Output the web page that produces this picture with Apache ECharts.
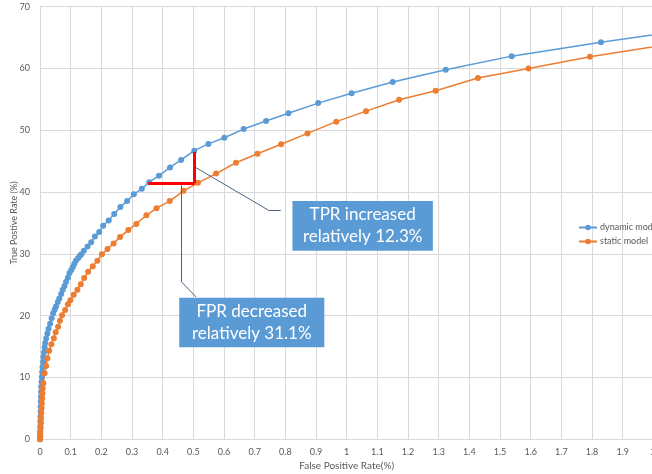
<!DOCTYPE html>
<html>
<head>
<meta charset="utf-8">
<script src="https://cdn.jsdelivr.net/npm/echarts@6/dist/echarts.min.js"></script>
<style>
html,body{margin:0;padding:0;background:#fff;overflow:hidden;}
#chart{width:652px;height:474px;}
</style>
</head>
<body>
<div id="chart"></div>
<script>
// ---- data (x = FPR %, y = TPR %) ----
var seriesNames = ['dynamic model', 'static model'];
var dynamicModel = [
  [0,0],[0,0.6],[0.0005,1.3],[0.001,2.1],[0.001,2.9],[0.0015,3.7],[0.002,4.5],[0.002,5.3],
  [0.0025,6.1],[0.003,6.9],[0.0035,7.7],[0.004,8.5],[0.005,9.3],[0.006,10.1],[0.007,10.9],
  [0.008,11.7],[0.010,12.5],[0.011,13.3],[0.013,14.1],[0.015,14.9],[0.017,15.6],[0.020,16.3],
  [0.024,17.1],[0.028,17.9],[0.033,18.7],[0.038,19.6],[0.043,20.4],[0.048,21.0],[0.052,21.5],
  [0.058,22.2],[0.063,22.8],[0.069,23.5],[0.074,24.2],[0.080,24.8],[0.085,25.5],[0.091,26.2],
  [0.096,26.9],[0.102,27.4],[0.107,27.9],[0.112,28.4],[0.117,28.9],[0.124,29.3],[0.130,29.7],
  [0.135,29.95],[0.143,30.5],[0.155,31.2],[0.167,31.9],[0.179,32.8],[0.193,33.55],[0.206,34.55],
  [0.224,35.4],[0.242,36.45],[0.262,37.6],[0.284,38.55],[0.306,39.65],[0.332,40.55],[0.356,41.6],
  [0.388,42.65],[0.424,44.0],[0.460,45.2],[0.503,46.7],[0.549,47.8],[0.601,48.8],[0.664,50.2],
  [0.737,51.5],[0.810,52.75],[0.907,54.4],[1.016,56.0],[1.150,57.8],[1.323,59.8],[1.538,62.0],
  [1.829,64.25],[2.15,66.5]
];
var staticModel = [
  [0,0],[0.001,0.4],[0.001,1.0],[0.002,1.8],[0.003,2.6],[0.003,3.4],[0.004,4.2],[0.005,5.0],
  [0.006,5.8],[0.007,6.6],[0.008,7.4],[0.009,8.2],[0.011,9.06],[0.015,10.68],[0.020,11.86],
  [0.024,13.11],[0.030,14.34],[0.037,15.37],[0.045,16.34],[0.051,17.31],[0.059,18.22],
  [0.065,19.19],[0.072,20.06],[0.082,20.92],[0.091,21.84],[0.099,22.5],[0.110,23.4],
  [0.122,24.2],[0.133,25.1],[0.144,26.1],[0.157,27.1],[0.172,28.0],[0.187,28.9],[0.202,29.95],
  [0.220,30.8],[0.240,31.7],[0.261,32.75],[0.288,33.85],[0.314,34.85],[0.347,36.25],[0.380,37.4],
  [0.423,38.55],[0.468,40.2],[0.515,41.5],[0.574,43.0],[0.639,44.75],[0.709,46.2],[0.786,47.75],
  [0.872,49.5],[0.966,51.4],[1.063,53.1],[1.171,54.95],[1.290,56.4],[1.428,58.45],[1.593,60.0],
  [1.793,61.9],[2.1,64.3]
];
var xAxisRange = [0, 2, 0.1];
var yAxisRange = [0, 70, 10];
var xAxisTitle = 'False Positive Rate(%)';
var yAxisTitle = 'True Postive Rate (%)';

// annotation anchors (data coordinates)
var redCorner = [0.504, 41.4];
var redLeftX = 0.353;
var redTopY = 46.5;
var tprLeader = [[0.505, 44.06], [0.744, 37.1], [0.785, 37.1]];
var tprBox = [[0.823, 38.56], [1.281, 30.52]];
var tprText = 'TPR increased\nrelatively 12.3%';
var fprLeader = [[0.461, 41.1], [0.461, 25.5], [0.509, 23.03]];
var fprBox = [[0.454, 22.9], [0.927, 14.9]];
var fprText = 'FPR decreased\nrelatively 31.1%';

function segs(pts) {
  var out = [];
  for (var i = 0; i < pts.length - 1; i++) out.push([{coord: pts[i]}, {coord: pts[i + 1]}]);
  return out;
}

var chart = echarts.init(document.getElementById('chart'), null, {renderer: 'canvas'});
var font = 'Lato, "Open Sans", sans-serif';
var labelColor = '#595959';

var option = {
  animation: false,
  textStyle: {fontFamily: font},
  grid: {left: 40, top: 6.7, width: 613.4, height: 432.6, containLabel: false, outerBoundsMode: 'none'},
  legend: {
    data: seriesNames, orient: 'vertical', left: 578, top: 223, width: 120, padding: 0,
    itemWidth: 18, itemHeight: 7, itemGap: 5,
    textStyle: {fontSize: 9, color: labelColor, fontFamily: font, padding: [0, 0, 0, -2],
                width: 100, overflow: 'none'}
  },
  xAxis: {
    type: 'value', min: xAxisRange[0], max: xAxisRange[1], interval: xAxisRange[2],
    name: xAxisTitle, nameLocation: 'middle', nameGap: 20,
    nameTextStyle: {fontSize: 10, color: labelColor},
    axisLine: {show: true, lineStyle: {color: '#D9D9D9', width: 1}},
    axisTick: {show: false},
    axisLabel: {fontSize: 9, color: labelColor, margin: 8, showMaxLabel: true},
    splitLine: {show: true, lineStyle: {color: '#D9D9D9', width: 1}}
  },
  yAxis: {
    type: 'value', min: yAxisRange[0], max: yAxisRange[1], interval: yAxisRange[2],
    name: yAxisTitle, nameLocation: 'middle', nameGap: 21, nameMoveOverlap: false,
    nameTextStyle: {fontSize: 9, color: labelColor},
    axisLine: {show: false}, axisTick: {show: false},
    axisLabel: {fontSize: 9, color: labelColor, margin: 10},
    splitLine: {show: true, lineStyle: {color: '#D9D9D9', width: 1}}
  },
  series: [
    {
      name: seriesNames[0], type: 'line', data: dynamicModel,
      symbol: 'circle', symbolSize: 6, showAllSymbol: true,
      color: '#5B9BD5', lineStyle: {width: 1.5, color: '#5B9BD5'},
      itemStyle: {color: '#5B9BD5'}, clip: true
    },
    {
      name: seriesNames[1], type: 'line', data: staticModel,
      symbol: 'circle', symbolSize: 6, showAllSymbol: true,
      color: '#ED7D31', lineStyle: {width: 1.5, color: '#ED7D31'},
      itemStyle: {color: '#ED7D31'}, clip: true
    },
    {
      name: 'annotations', type: 'line', data: [], z: 5, silent: true,
      markArea: {
        silent: true,
        itemStyle: {color: '#5B9BD5', borderWidth: 0},
        label: {show: true, position: 'inside', color: '#ffffff', fontSize: 17,
                lineHeight: 22, fontFamily: font, align: 'center', verticalAlign: 'middle'},
        data: [
          [{xAxis: tprBox[0][0], yAxis: tprBox[0][1], name: tprText}, {xAxis: tprBox[1][0], yAxis: tprBox[1][1]}],
          [{xAxis: fprBox[0][0], yAxis: fprBox[0][1], name: fprText}, {xAxis: fprBox[1][0], yAxis: fprBox[1][1]}]
        ]
      },
      markLine: {
        silent: true, symbol: ['none', 'none'], label: {show: false},
        lineStyle: {color: '#4A6584', width: 1, type: 'solid'},
        data: segs(tprLeader).concat(segs(fprLeader)).concat([
          [{coord: [redLeftX, redCorner[1]], lineStyle: {color: '#FF0000', width: 3}},
           {coord: redCorner}],
          [{coord: redCorner, lineStyle: {color: '#FF0000', width: 3}},
           {coord: [redCorner[0], redTopY]}]
        ])
      }
    }
  ]
};
chart.setOption(option);
</script>
</body>
</html>
